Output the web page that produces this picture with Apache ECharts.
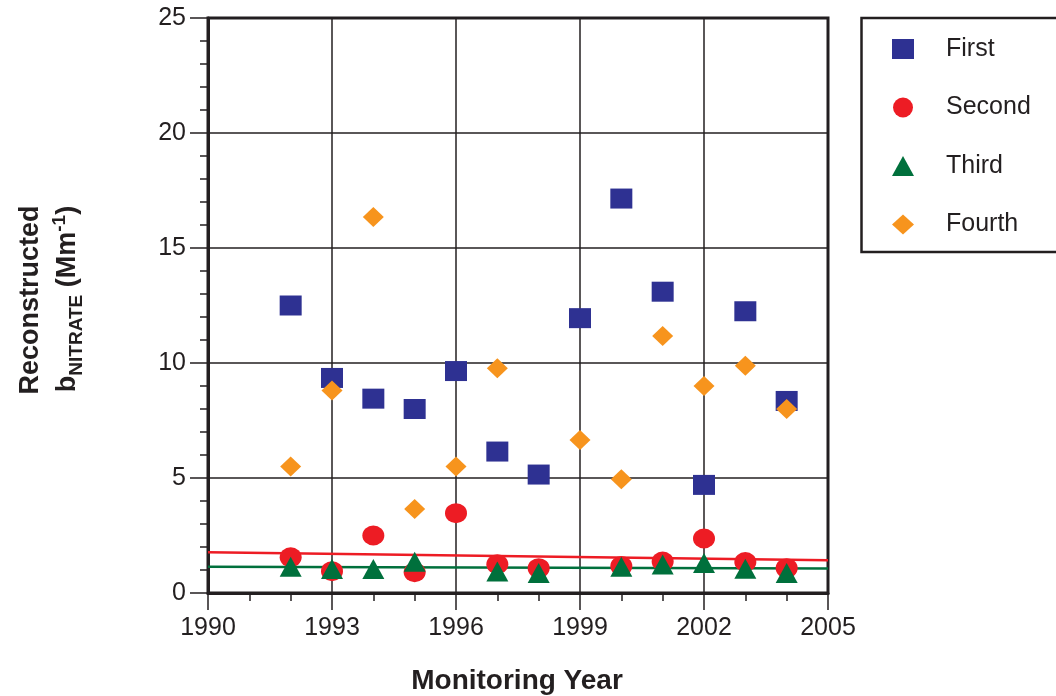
<!DOCTYPE html>
<html>
<head>
<meta charset="utf-8">
<title>Reconstructed b-nitrate by monitoring year</title>
<script src="https://cdn.jsdelivr.net/npm/echarts@6/dist/echarts.min.js"></script>
<style>
  html, body { margin: 0; padding: 0; background: #ffffff; }
  #chart { width: 1056px; height: 696px; }
</style>
</head>
<body>
<div id="chart"></div>
<script>
// Monitoring years and reconstructed nitrate extinction (Mm^-1) per quartile
const firstYears  = [1992, 1993, 1994, 1995, 1996, 1997, 1998, 1999, 2000, 2001, 2002, 2003, 2004];
const firstVals   = [12.5, 9.35, 8.45, 8.0, 9.65, 6.15, 5.15, 11.95, 17.15, 13.1, 4.7, 12.25, 8.35];

const secondYears = [1992, 1993, 1994, 1995, 1996, 1997, 1998, 2000, 2001, 2002, 2003, 2004];
const secondVals  = [1.55, 0.95, 2.5, 0.9, 3.47, 1.25, 1.08, 1.17, 1.37, 2.37, 1.35, 1.08];

const thirdYears  = [1992, 1993, 1994, 1995, 1997, 1998, 2000, 2001, 2002, 2003, 2004];
const thirdVals   = [1.14, 1.04, 1.04, 1.36, 0.93, 0.87, 1.14, 1.24, 1.3, 1.05, 0.87];

const fourthYears = [1992, 1993, 1994, 1995, 1996, 1997, 1999, 2000, 2001, 2002, 2003, 2004];
const fourthVals  = [5.5, 8.8, 16.35, 3.65, 5.5, 9.77, 6.65, 4.95, 11.17, 9.0, 9.88, 8.0];

// Fitted trend lines for the second and third quartiles (endpoints at 1990 and 2005)
const trendYears  = [1990, 2005];
const secondTrend = [1.77, 1.42];
const thirdTrend  = [1.14, 1.07];

const seriesNames = ['First', 'Second', 'Third', 'Fourth'];

const xTicks = { min: 1990, max: 2005, step: 3 };
const yTicks = { min: 0, max: 25, step: 5 };

const zip = (xs, ys) => xs.map((x, i) => [x, ys[i]]);

const INK = '#231F20';
const FONT = '"Liberation Sans", Arial, Helvetica, sans-serif';
const COLORS = { First: '#2E3192', Second: '#ED1C24', Third: '#00703C', Fourth: '#F7941D' };

const chart = echarts.init(document.getElementById('chart'), null, { renderer: 'canvas' });

const option = {
  backgroundColor: '#ffffff',
  animation: false,
  grid: {
    left: 208, top: 18, width: 620, height: 575,
    show: true, borderColor: INK, borderWidth: 3, backgroundColor: 'transparent'
  },
  xAxis: {
    type: 'value',
    min: xTicks.min, max: xTicks.max, interval: xTicks.step,
    axisLine: { show: true, onZero: false, lineStyle: { color: INK, width: 3 } },
    axisTick: { show: true, length: 17, inside: false, lineStyle: { color: INK, width: 1.5 } },
    minorTick: { show: true, splitNumber: 3, length: 8, lineStyle: { color: INK, width: 1.5 } },
    splitLine: { show: true, lineStyle: { color: INK, width: 1.5 } },
    axisLabel: {
      color: INK, fontFamily: FONT, fontSize: 25, margin: 23,
      formatter: (v) => String(v)
    }
  },
  yAxis: {
    type: 'value',
    min: yTicks.min, max: yTicks.max, interval: yTicks.step,
    axisLine: { show: true, onZero: false, lineStyle: { color: INK, width: 3 } },
    axisTick: { show: true, length: 18, inside: false, lineStyle: { color: INK, width: 1.5 } },
    minorTick: { show: true, splitNumber: 5, length: 8, lineStyle: { color: INK, width: 1.5 } },
    splitLine: { show: true, lineStyle: { color: INK, width: 1.5 } },
    axisLabel: { color: INK, fontFamily: FONT, fontSize: 25, margin: 22 }
  },
  legend: {
    data: seriesNames,
    orient: 'vertical',
    left: 887, top: 31.5,
    padding: 5,
    itemWidth: 22, itemHeight: 20, itemGap: 33.5,
    selectedMode: false,
    textStyle: { color: INK, fontFamily: FONT, fontSize: 25, padding: [0, 0, 0, 27] }
  },
  graphic: [
    {
      type: 'rect', silent: true,
      shape: { x: 861.5, y: 18, width: 230, height: 234 },
      style: { fill: 'none', stroke: INK, lineWidth: 2.5 }
    },
    {
      type: 'text', silent: true,
      x: 517, y: 681,
      style: {
        text: 'Monitoring Year', fill: INK,
        font: 'bold 28px ' + FONT, align: 'center', verticalAlign: 'middle'
      }
    },
    {
      type: 'text', silent: true,
      x: 31, y: 300, rotation: Math.PI / 2,
      style: {
        text: 'Reconstructed', fill: INK,
        font: 'bold 27px ' + FONT, align: 'center', verticalAlign: 'middle'
      }
    },
    {
      type: 'text', silent: true,
      x: 68, y: 299, rotation: Math.PI / 2,
      style: {
        text: '{m|b}{sub|NITRATE}{m| (Mm}{sup|-1}{m|)}',
        align: 'center', verticalAlign: 'middle',
        rich: {
          m:   { fill: INK, fontFamily: FONT, fontWeight: 'bold', fontSize: 27, lineHeight: 36, verticalAlign: 'middle' },
          sub: { fill: INK, fontFamily: FONT, fontWeight: 'bold', fontSize: 19, lineHeight: 19, verticalAlign: 'bottom' },
          sup: { fill: INK, fontFamily: FONT, fontWeight: 'bold', fontSize: 19, lineHeight: 19, verticalAlign: 'top' }
        }
      }
    }
  ],
  series: [
    {
      name: 'Second trend', type: 'line', data: zip(trendYears, secondTrend),
      showSymbol: false, symbol: 'none', silent: true,
      lineStyle: { color: COLORS.Second, width: 2.5 }, z: 2
    },
    {
      name: 'Third trend', type: 'line', data: zip(trendYears, thirdTrend),
      showSymbol: false, symbol: 'none', silent: true,
      lineStyle: { color: COLORS.Third, width: 2.5 }, z: 2
    },
    {
      name: 'First', type: 'scatter', data: zip(firstYears, firstVals),
      symbol: 'rect', symbolSize: [22, 20],
      itemStyle: { color: COLORS.First, opacity: 1 }, z: 3
    },
    {
      name: 'Second', type: 'scatter', data: zip(secondYears, secondVals),
      symbol: 'circle', symbolSize: [22, 20],
      itemStyle: { color: COLORS.Second, opacity: 1 }, z: 4
    },
    {
      name: 'Third', type: 'scatter', data: zip(thirdYears, thirdVals),
      symbol: 'triangle', symbolSize: [22, 20],
      itemStyle: { color: COLORS.Third, opacity: 1 }, z: 5
    },
    {
      name: 'Fourth', type: 'scatter', data: zip(fourthYears, fourthVals),
      symbol: 'diamond', symbolSize: [21, 20],
      itemStyle: { color: COLORS.Fourth, opacity: 1 }, z: 6
    }
  ]
};

chart.setOption(option);
</script>
</body>
</html>
